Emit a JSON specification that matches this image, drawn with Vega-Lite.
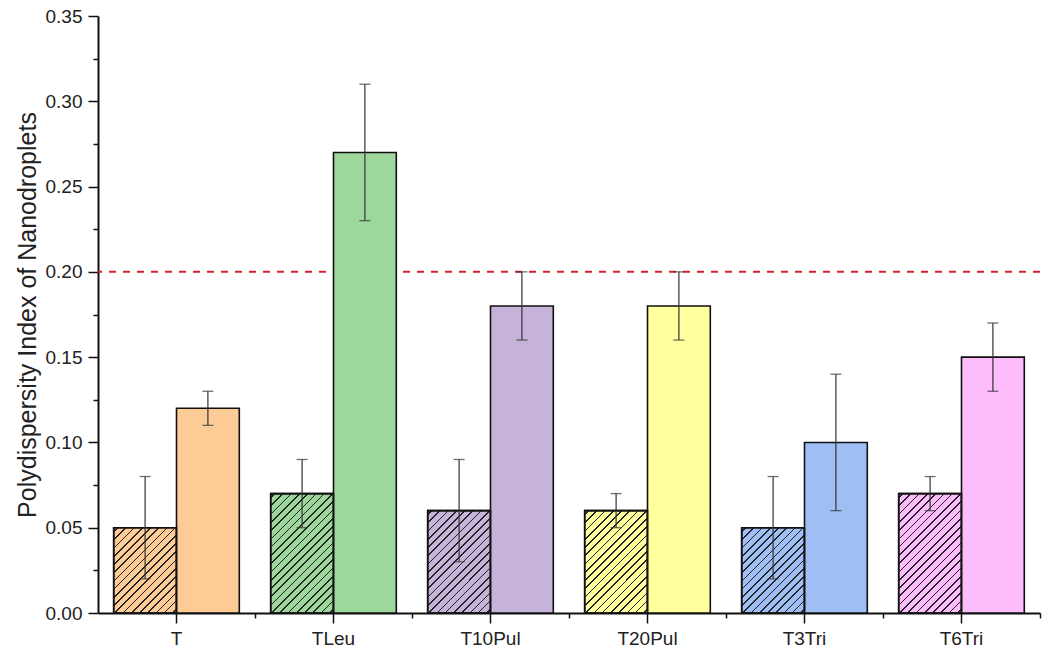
{
  "$schema": "https://vega.github.io/schema/vega-lite/v6.json",
  "width": 942,
  "height": 597,
  "autosize": {"type": "none"},
  "padding": {"left": 98, "top": 16, "right": 10, "bottom": 44},
  "config": {"view": {"stroke": null}, "font": "Liberation Sans"},
  "data": {"values": [
    {"cat": "T", "series": "hatched", "value": 0.05, "lo": 0.02, "hi": 0.08},
    {"cat": "T", "series": "solid", "value": 0.12, "lo": 0.11, "hi": 0.13},
    {"cat": "TLeu", "series": "hatched", "value": 0.07, "lo": 0.05, "hi": 0.09},
    {"cat": "TLeu", "series": "solid", "value": 0.27, "lo": 0.23, "hi": 0.31},
    {"cat": "T10Pul", "series": "hatched", "value": 0.06, "lo": 0.03, "hi": 0.09},
    {"cat": "T10Pul", "series": "solid", "value": 0.18, "lo": 0.16, "hi": 0.20},
    {"cat": "T20Pul", "series": "hatched", "value": 0.06, "lo": 0.05, "hi": 0.07},
    {"cat": "T20Pul", "series": "solid", "value": 0.18, "lo": 0.16, "hi": 0.20},
    {"cat": "T3Tri", "series": "hatched", "value": 0.05, "lo": 0.02, "hi": 0.08},
    {"cat": "T3Tri", "series": "solid", "value": 0.10, "lo": 0.06, "hi": 0.14},
    {"cat": "T6Tri", "series": "hatched", "value": 0.07, "lo": 0.06, "hi": 0.08},
    {"cat": "T6Tri", "series": "solid", "value": 0.15, "lo": 0.13, "hi": 0.17}
  ]},
  "resolve": {"axis": {"x": "independent", "y": "independent"}},
  "layer": [
    {
      "data": {"values": [{"ref": 0.2}]},
      "mark": {"type": "rule", "color": "#D42030", "strokeDash": [7, 7], "strokeWidth": 2},
      "encoding": {
        "y": {"field": "ref", "type": "quantitative", "scale": {"domain": [0, 0.35], "nice": false}, "axis": null}
      }
    },
    {
      "mark": {"type": "bar", "stroke": "#111111", "strokeWidth": 1.6},
      "encoding": {
        "x": {"field": "cat", "type": "nominal", "sort": ["T", "TLeu", "T10Pul", "T20Pul", "T3Tri", "T6Tri"],
              "scale": {"paddingInner": 0.2, "paddingOuter": 0.1},
              "axis": {"title": null, "labelAngle": 0, "labelFontSize": 19, "labelColor": "#222222", "labelPadding": 6,
                       "tickSize": 10, "tickWidth": 1.5, "tickColor": "#111111", "domainWidth": 2, "domainColor": "#111111",
                       "bandPosition": 0.5, "grid": false}},
        "xOffset": {"field": "series", "type": "nominal", "sort": ["hatched", "solid"], "scale": {"paddingInner": 0, "paddingOuter": 0}},
        "y": {"field": "value", "type": "quantitative", "scale": {"domain": [0, 0.35], "nice": false},
              "axis": {"title": "Polydispersity Index of Nanodroplets", "titleFontSize": 25, "titleFontWeight": "normal", "titleColor": "#222222", "titlePadding": 5,
                       "values": [0, 0.025, 0.05, 0.075, 0.1, 0.125, 0.15, 0.175, 0.2, 0.225, 0.25, 0.275, 0.3, 0.325, 0.35],
                       "labelExpr": "round(datum.value * 1000) % 50 === 0 ? format(datum.value, '.2f') : ''",
                       "labelFontSize": 19, "labelColor": "#222222", "labelPadding": 6,
                       "tickSize": {"condition": {"test": "round(datum.value * 1000) % 50 === 0", "value": 10}, "value": 5},
                       "tickColor": "#111111",
                       "tickWidth": 1.5, "domainWidth": 2, "domainColor": "#111111", "grid": false}},
        "fill": {"field": "cat", "type": "nominal", "legend": null,
                 "scale": {"domain": ["T", "TLeu", "T10Pul", "T20Pul", "T3Tri", "T6Tri"],
                           "range": ["#FDCB95", "#9DD79C", "#C6B3D9", "#FFFF9E", "#9EBEF4", "#FDBDFC"]}}
      }
    },
    {
      "transform": [{"filter": "datum.series === 'hatched'"}],
      "mark": {"type": "bar", "stroke": "#111111", "strokeWidth": 1.6},
      "encoding": {
        "x": {"field": "cat", "type": "nominal", "sort": ["T", "TLeu", "T10Pul", "T20Pul", "T3Tri", "T6Tri"],
              "axis": {"title": null, "labels": false, "domain": false, "tickSize": 5, "tickWidth": 1.5, "tickColor": "#111111",
                       "bandPosition": 0.5, "tickOffset": 78.5, "orient": "bottom", "grid": false}},
        "xOffset": {"field": "series", "type": "nominal", "sort": ["hatched", "solid"]},
        "y": {"field": "value", "type": "quantitative", "axis": null},
        "fill": {
          "condition": [
            {"test": "datum.value < 0.055", "value": {"gradient": "linear", "x1": 0, "y1": 0, "x2": 0.829, "y2": 1.126, "stops": [
              {"offset": 0.0222, "color": "rgba(0,0,0,0)"}, {"offset": 0.0222, "color": "#222"}, {"offset": 0.0333, "color": "#222"}, {"offset": 0.0333, "color": "rgba(0,0,0,0)"},
              {"offset": 0.0778, "color": "rgba(0,0,0,0)"}, {"offset": 0.0778, "color": "#222"}, {"offset": 0.0889, "color": "#222"}, {"offset": 0.0889, "color": "rgba(0,0,0,0)"},
              {"offset": 0.1333, "color": "rgba(0,0,0,0)"}, {"offset": 0.1333, "color": "#222"}, {"offset": 0.1444, "color": "#222"}, {"offset": 0.1444, "color": "rgba(0,0,0,0)"},
              {"offset": 0.1889, "color": "rgba(0,0,0,0)"}, {"offset": 0.1889, "color": "#222"}, {"offset": 0.2, "color": "#222"}, {"offset": 0.2, "color": "rgba(0,0,0,0)"},
              {"offset": 0.2444, "color": "rgba(0,0,0,0)"}, {"offset": 0.2444, "color": "#222"}, {"offset": 0.2556, "color": "#222"}, {"offset": 0.2556, "color": "rgba(0,0,0,0)"},
              {"offset": 0.3, "color": "rgba(0,0,0,0)"}, {"offset": 0.3, "color": "#222"}, {"offset": 0.3111, "color": "#222"}, {"offset": 0.3111, "color": "rgba(0,0,0,0)"},
              {"offset": 0.3556, "color": "rgba(0,0,0,0)"}, {"offset": 0.3556, "color": "#222"}, {"offset": 0.3667, "color": "#222"}, {"offset": 0.3667, "color": "rgba(0,0,0,0)"},
              {"offset": 0.4111, "color": "rgba(0,0,0,0)"}, {"offset": 0.4111, "color": "#222"}, {"offset": 0.4222, "color": "#222"}, {"offset": 0.4222, "color": "rgba(0,0,0,0)"},
              {"offset": 0.4667, "color": "rgba(0,0,0,0)"}, {"offset": 0.4667, "color": "#222"}, {"offset": 0.4778, "color": "#222"}, {"offset": 0.4778, "color": "rgba(0,0,0,0)"},
              {"offset": 0.5222, "color": "rgba(0,0,0,0)"}, {"offset": 0.5222, "color": "#222"}, {"offset": 0.5333, "color": "#222"}, {"offset": 0.5333, "color": "rgba(0,0,0,0)"},
              {"offset": 0.5778, "color": "rgba(0,0,0,0)"}, {"offset": 0.5778, "color": "#222"}, {"offset": 0.5889, "color": "#222"}, {"offset": 0.5889, "color": "rgba(0,0,0,0)"},
              {"offset": 0.6333, "color": "rgba(0,0,0,0)"}, {"offset": 0.6333, "color": "#222"}, {"offset": 0.6444, "color": "#222"}, {"offset": 0.6444, "color": "rgba(0,0,0,0)"},
              {"offset": 0.6889, "color": "rgba(0,0,0,0)"}, {"offset": 0.6889, "color": "#222"}, {"offset": 0.7, "color": "#222"}, {"offset": 0.7, "color": "rgba(0,0,0,0)"},
              {"offset": 0.7444, "color": "rgba(0,0,0,0)"}, {"offset": 0.7444, "color": "#222"}, {"offset": 0.7556, "color": "#222"}, {"offset": 0.7556, "color": "rgba(0,0,0,0)"},
              {"offset": 0.8, "color": "rgba(0,0,0,0)"}, {"offset": 0.8, "color": "#222"}, {"offset": 0.8111, "color": "#222"}, {"offset": 0.8111, "color": "rgba(0,0,0,0)"},
              {"offset": 0.8556, "color": "rgba(0,0,0,0)"}, {"offset": 0.8556, "color": "#222"}, {"offset": 0.8667, "color": "#222"}, {"offset": 0.8667, "color": "rgba(0,0,0,0)"},
              {"offset": 0.9111, "color": "rgba(0,0,0,0)"}, {"offset": 0.9111, "color": "#222"}, {"offset": 0.9222, "color": "#222"}, {"offset": 0.9222, "color": "rgba(0,0,0,0)"},
              {"offset": 0.9667, "color": "rgba(0,0,0,0)"}, {"offset": 0.9667, "color": "#222"}, {"offset": 0.9778, "color": "#222"}, {"offset": 0.9778, "color": "rgba(0,0,0,0)"}
            ]}},
            {"test": "datum.value < 0.065", "value": {"gradient": "linear", "x1": 0, "y1": 0, "x2": 0.7196, "y2": 1.1721, "stops": [
              {"offset": 0.02, "color": "rgba(0,0,0,0)"}, {"offset": 0.02, "color": "#222"}, {"offset": 0.03, "color": "#222"}, {"offset": 0.03, "color": "rgba(0,0,0,0)"},
              {"offset": 0.07, "color": "rgba(0,0,0,0)"}, {"offset": 0.07, "color": "#222"}, {"offset": 0.08, "color": "#222"}, {"offset": 0.08, "color": "rgba(0,0,0,0)"},
              {"offset": 0.12, "color": "rgba(0,0,0,0)"}, {"offset": 0.12, "color": "#222"}, {"offset": 0.13, "color": "#222"}, {"offset": 0.13, "color": "rgba(0,0,0,0)"},
              {"offset": 0.17, "color": "rgba(0,0,0,0)"}, {"offset": 0.17, "color": "#222"}, {"offset": 0.18, "color": "#222"}, {"offset": 0.18, "color": "rgba(0,0,0,0)"},
              {"offset": 0.22, "color": "rgba(0,0,0,0)"}, {"offset": 0.22, "color": "#222"}, {"offset": 0.23, "color": "#222"}, {"offset": 0.23, "color": "rgba(0,0,0,0)"},
              {"offset": 0.27, "color": "rgba(0,0,0,0)"}, {"offset": 0.27, "color": "#222"}, {"offset": 0.28, "color": "#222"}, {"offset": 0.28, "color": "rgba(0,0,0,0)"},
              {"offset": 0.32, "color": "rgba(0,0,0,0)"}, {"offset": 0.32, "color": "#222"}, {"offset": 0.33, "color": "#222"}, {"offset": 0.33, "color": "rgba(0,0,0,0)"},
              {"offset": 0.37, "color": "rgba(0,0,0,0)"}, {"offset": 0.37, "color": "#222"}, {"offset": 0.38, "color": "#222"}, {"offset": 0.38, "color": "rgba(0,0,0,0)"},
              {"offset": 0.42, "color": "rgba(0,0,0,0)"}, {"offset": 0.42, "color": "#222"}, {"offset": 0.43, "color": "#222"}, {"offset": 0.43, "color": "rgba(0,0,0,0)"},
              {"offset": 0.47, "color": "rgba(0,0,0,0)"}, {"offset": 0.47, "color": "#222"}, {"offset": 0.48, "color": "#222"}, {"offset": 0.48, "color": "rgba(0,0,0,0)"},
              {"offset": 0.52, "color": "rgba(0,0,0,0)"}, {"offset": 0.52, "color": "#222"}, {"offset": 0.53, "color": "#222"}, {"offset": 0.53, "color": "rgba(0,0,0,0)"},
              {"offset": 0.57, "color": "rgba(0,0,0,0)"}, {"offset": 0.57, "color": "#222"}, {"offset": 0.58, "color": "#222"}, {"offset": 0.58, "color": "rgba(0,0,0,0)"},
              {"offset": 0.62, "color": "rgba(0,0,0,0)"}, {"offset": 0.62, "color": "#222"}, {"offset": 0.63, "color": "#222"}, {"offset": 0.63, "color": "rgba(0,0,0,0)"},
              {"offset": 0.67, "color": "rgba(0,0,0,0)"}, {"offset": 0.67, "color": "#222"}, {"offset": 0.68, "color": "#222"}, {"offset": 0.68, "color": "rgba(0,0,0,0)"},
              {"offset": 0.72, "color": "rgba(0,0,0,0)"}, {"offset": 0.72, "color": "#222"}, {"offset": 0.73, "color": "#222"}, {"offset": 0.73, "color": "rgba(0,0,0,0)"},
              {"offset": 0.77, "color": "rgba(0,0,0,0)"}, {"offset": 0.77, "color": "#222"}, {"offset": 0.78, "color": "#222"}, {"offset": 0.78, "color": "rgba(0,0,0,0)"},
              {"offset": 0.82, "color": "rgba(0,0,0,0)"}, {"offset": 0.82, "color": "#222"}, {"offset": 0.83, "color": "#222"}, {"offset": 0.83, "color": "rgba(0,0,0,0)"},
              {"offset": 0.87, "color": "rgba(0,0,0,0)"}, {"offset": 0.87, "color": "#222"}, {"offset": 0.88, "color": "#222"}, {"offset": 0.88, "color": "rgba(0,0,0,0)"},
              {"offset": 0.92, "color": "rgba(0,0,0,0)"}, {"offset": 0.92, "color": "#222"}, {"offset": 0.93, "color": "#222"}, {"offset": 0.93, "color": "rgba(0,0,0,0)"},
              {"offset": 0.97, "color": "rgba(0,0,0,0)"}, {"offset": 0.97, "color": "#222"}, {"offset": 0.98, "color": "#222"}, {"offset": 0.98, "color": "rgba(0,0,0,0)"}
            ]}}
          ],
          "value": {"gradient": "linear", "x1": 0, "y1": 0, "x2": 0.6287, "y2": 1.1953, "stops": [
            {"offset": 0.0182, "color": "rgba(0,0,0,0)"}, {"offset": 0.0182, "color": "#222"}, {"offset": 0.0273, "color": "#222"}, {"offset": 0.0273, "color": "rgba(0,0,0,0)"},
            {"offset": 0.0636, "color": "rgba(0,0,0,0)"}, {"offset": 0.0636, "color": "#222"}, {"offset": 0.0727, "color": "#222"}, {"offset": 0.0727, "color": "rgba(0,0,0,0)"},
            {"offset": 0.1091, "color": "rgba(0,0,0,0)"}, {"offset": 0.1091, "color": "#222"}, {"offset": 0.1182, "color": "#222"}, {"offset": 0.1182, "color": "rgba(0,0,0,0)"},
            {"offset": 0.1545, "color": "rgba(0,0,0,0)"}, {"offset": 0.1545, "color": "#222"}, {"offset": 0.1636, "color": "#222"}, {"offset": 0.1636, "color": "rgba(0,0,0,0)"},
            {"offset": 0.2, "color": "rgba(0,0,0,0)"}, {"offset": 0.2, "color": "#222"}, {"offset": 0.2091, "color": "#222"}, {"offset": 0.2091, "color": "rgba(0,0,0,0)"},
            {"offset": 0.2455, "color": "rgba(0,0,0,0)"}, {"offset": 0.2455, "color": "#222"}, {"offset": 0.2545, "color": "#222"}, {"offset": 0.2545, "color": "rgba(0,0,0,0)"},
            {"offset": 0.2909, "color": "rgba(0,0,0,0)"}, {"offset": 0.2909, "color": "#222"}, {"offset": 0.3, "color": "#222"}, {"offset": 0.3, "color": "rgba(0,0,0,0)"},
            {"offset": 0.3364, "color": "rgba(0,0,0,0)"}, {"offset": 0.3364, "color": "#222"}, {"offset": 0.3455, "color": "#222"}, {"offset": 0.3455, "color": "rgba(0,0,0,0)"},
            {"offset": 0.3818, "color": "rgba(0,0,0,0)"}, {"offset": 0.3818, "color": "#222"}, {"offset": 0.3909, "color": "#222"}, {"offset": 0.3909, "color": "rgba(0,0,0,0)"},
            {"offset": 0.4273, "color": "rgba(0,0,0,0)"}, {"offset": 0.4273, "color": "#222"}, {"offset": 0.4364, "color": "#222"}, {"offset": 0.4364, "color": "rgba(0,0,0,0)"},
            {"offset": 0.4727, "color": "rgba(0,0,0,0)"}, {"offset": 0.4727, "color": "#222"}, {"offset": 0.4818, "color": "#222"}, {"offset": 0.4818, "color": "rgba(0,0,0,0)"},
            {"offset": 0.5182, "color": "rgba(0,0,0,0)"}, {"offset": 0.5182, "color": "#222"}, {"offset": 0.5273, "color": "#222"}, {"offset": 0.5273, "color": "rgba(0,0,0,0)"},
            {"offset": 0.5636, "color": "rgba(0,0,0,0)"}, {"offset": 0.5636, "color": "#222"}, {"offset": 0.5727, "color": "#222"}, {"offset": 0.5727, "color": "rgba(0,0,0,0)"},
            {"offset": 0.6091, "color": "rgba(0,0,0,0)"}, {"offset": 0.6091, "color": "#222"}, {"offset": 0.6182, "color": "#222"}, {"offset": 0.6182, "color": "rgba(0,0,0,0)"},
            {"offset": 0.6545, "color": "rgba(0,0,0,0)"}, {"offset": 0.6545, "color": "#222"}, {"offset": 0.6636, "color": "#222"}, {"offset": 0.6636, "color": "rgba(0,0,0,0)"},
            {"offset": 0.7, "color": "rgba(0,0,0,0)"}, {"offset": 0.7, "color": "#222"}, {"offset": 0.7091, "color": "#222"}, {"offset": 0.7091, "color": "rgba(0,0,0,0)"},
            {"offset": 0.7455, "color": "rgba(0,0,0,0)"}, {"offset": 0.7455, "color": "#222"}, {"offset": 0.7545, "color": "#222"}, {"offset": 0.7545, "color": "rgba(0,0,0,0)"},
            {"offset": 0.7909, "color": "rgba(0,0,0,0)"}, {"offset": 0.7909, "color": "#222"}, {"offset": 0.8, "color": "#222"}, {"offset": 0.8, "color": "rgba(0,0,0,0)"},
            {"offset": 0.8364, "color": "rgba(0,0,0,0)"}, {"offset": 0.8364, "color": "#222"}, {"offset": 0.8455, "color": "#222"}, {"offset": 0.8455, "color": "rgba(0,0,0,0)"},
            {"offset": 0.8818, "color": "rgba(0,0,0,0)"}, {"offset": 0.8818, "color": "#222"}, {"offset": 0.8909, "color": "#222"}, {"offset": 0.8909, "color": "rgba(0,0,0,0)"},
            {"offset": 0.9273, "color": "rgba(0,0,0,0)"}, {"offset": 0.9273, "color": "#222"}, {"offset": 0.9364, "color": "#222"}, {"offset": 0.9364, "color": "rgba(0,0,0,0)"},
            {"offset": 0.9727, "color": "rgba(0,0,0,0)"}, {"offset": 0.9727, "color": "#222"}, {"offset": 0.9818, "color": "#222"}, {"offset": 0.9818, "color": "rgba(0,0,0,0)"}
          ]}
        }
      }
    },
    {
      "mark": {"type": "rule", "color": "#333333", "strokeWidth": 1.2},
      "encoding": {
        "x": {"field": "cat", "type": "nominal", "sort": ["T", "TLeu", "T10Pul", "T20Pul", "T3Tri", "T6Tri"], "axis": null},
        "xOffset": {"field": "series", "type": "nominal", "sort": ["hatched", "solid"]},
        "y": {"field": "lo", "type": "quantitative", "axis": null},
        "y2": {"field": "hi"}
      }
    },
    {
      "mark": {"type": "tick", "color": "#333333", "thickness": 1.3, "size": 11},
      "encoding": {
        "x": {"field": "cat", "type": "nominal", "sort": ["T", "TLeu", "T10Pul", "T20Pul", "T3Tri", "T6Tri"], "axis": null},
        "xOffset": {"field": "series", "type": "nominal", "sort": ["hatched", "solid"]},
        "y": {"field": "hi", "type": "quantitative", "axis": null}
      }
    },
    {
      "mark": {"type": "tick", "color": "#333333", "thickness": 1.3, "size": 11},
      "encoding": {
        "x": {"field": "cat", "type": "nominal", "sort": ["T", "TLeu", "T10Pul", "T20Pul", "T3Tri", "T6Tri"], "axis": null},
        "xOffset": {"field": "series", "type": "nominal", "sort": ["hatched", "solid"]},
        "y": {"field": "lo", "type": "quantitative", "axis": null}
      }
    }
  ]
}
